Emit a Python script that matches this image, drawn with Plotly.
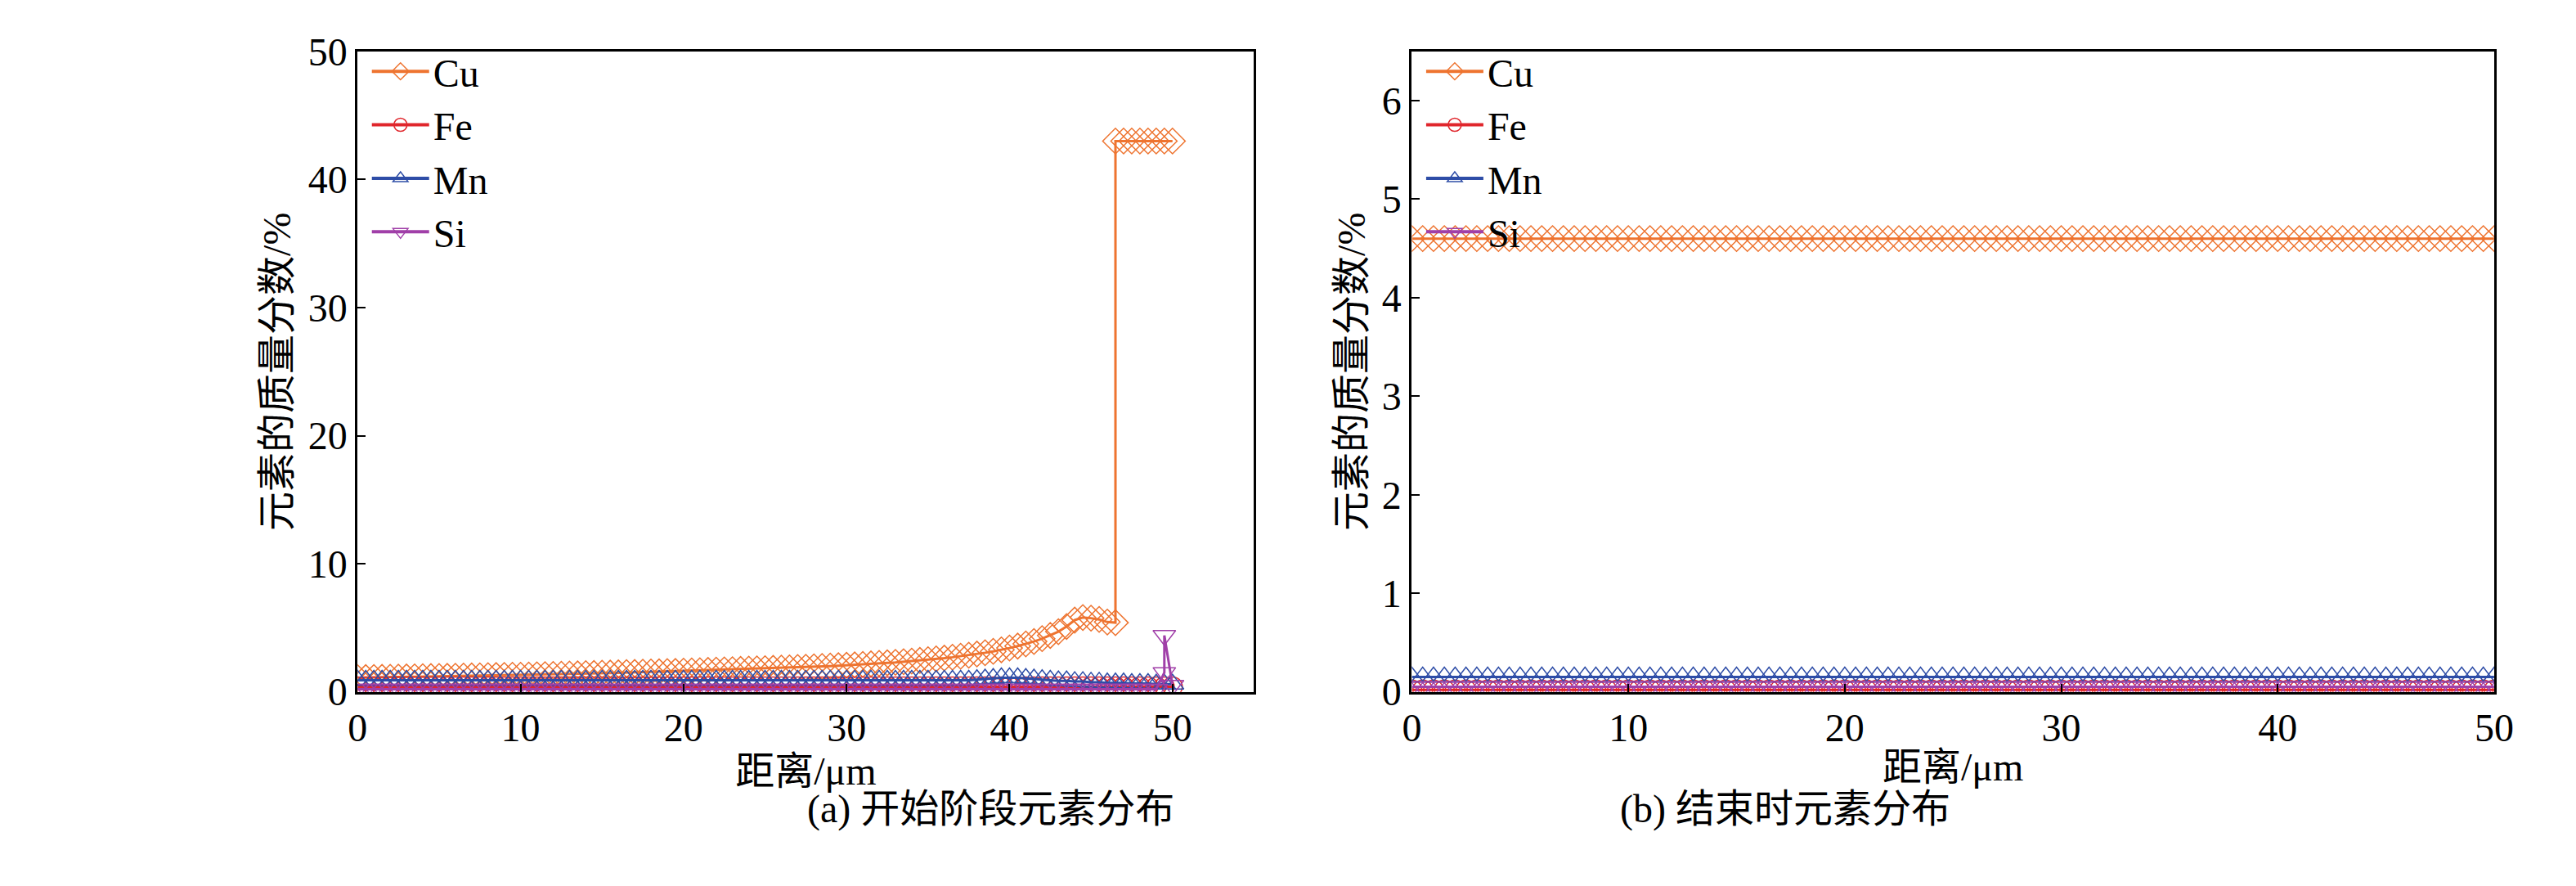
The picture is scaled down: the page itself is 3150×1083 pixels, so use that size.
import plotly.graph_objects as go

# distance grid, 0.5 um step
x = [i * 0.5 for i in range(101)]

# (a) start stage
cu_a = [1.10, 1.11, 1.12, 1.13, 1.14, 1.15, 1.16, 1.17, 1.18, 1.19, 1.20, 1.21, 1.22, 1.23, 1.24, 1.25, 1.26, 1.27, 1.28, 1.29, 1.30,
        1.31, 1.33, 1.34, 1.36, 1.37, 1.39, 1.40, 1.42, 1.43, 1.45, 1.46, 1.48, 1.50, 1.51, 1.53, 1.55, 1.56, 1.58, 1.59, 1.61,
        1.63, 1.65, 1.67, 1.69, 1.71, 1.73, 1.75, 1.77, 1.79, 1.81, 1.83, 1.85, 1.87, 1.90, 1.92, 1.95, 1.98, 2.01, 2.04, 2.07,
        2.10, 2.14, 2.18, 2.22, 2.26, 2.30, 2.35, 2.40, 2.45, 2.51, 2.57, 2.63, 2.70, 2.78, 2.86, 2.95, 3.05, 3.16, 3.28, 3.42,
        3.57, 3.74, 3.93, 4.15, 4.40, 4.70, 5.10, 5.60, 5.80, 5.75, 5.65, 5.45,
        5.40, 43.0, 43.0, 43.0, 43.0, 43.0, 43.0, 43.0, 43.0]
x_cu_a = x[:93] + [46.5] + x[93:]
fe_a = [0.40] * 101
mn_a = [0.90] * 76 + [0.95, 1.00, 1.05, 1.10, 1.10, 1.10, 1.05, 1.00, 0.95, 0.90, 0.85, 0.85,
                      0.80, 0.80, 0.75, 0.75, 0.70, 0.70, 0.70, 0.65, 0.65, 0.65, 0.60, 0.60, 0.60]
si_a = [0.20] * 99 + [1.50, 4.40, 0.50]
x_si_a = x[:100] + [49.5] + x[100:]

# (b) end stage
cu_b = [4.60] * 101
fe_b = [0.02] * 101
mn_b = [0.15] * 101
si_b = [0.05] * 101

names = ["Cu", "Fe", "Mn", "Si"]
colors = ["#EE7430", "#E0262C", "#2E4DA7", "#A03FA8"]
symbols = ["diamond-open", "circle-open", "triangle-up-open", "triangle-down-open"]

font = dict(family="Liberation Serif, Noto Sans CJK SC", size=48, color="black")
fig = go.Figure()
xs_a = [x_cu_a, x, x, x_si_a]
for k, ys in enumerate([cu_a, fe_a, mn_a, si_a]):
    fig.add_trace(go.Scatter(x=xs_a[k], y=ys, name=names[k], mode="lines+markers",
                             line=dict(color=colors[k], width=3),
                             marker=dict(symbol=symbols[k], size=24, line=dict(width=1.5, color=colors[k])),
                             xaxis="x", yaxis="y", showlegend=False))
for k, ys in enumerate([cu_b, fe_b, mn_b, si_b]):
    fig.add_trace(go.Scatter(x=x, y=ys, name=names[k], mode="lines+markers",
                             line=dict(color=colors[k], width=3),
                             marker=dict(symbol=symbols[k], size=24, line=dict(width=1.5, color=colors[k])),
                             xaxis="x2", yaxis="y2", showlegend=False))

# legend entries for each panel
for k in range(4):
    fig.add_trace(go.Scatter(x=[None], y=[None], name=names[k], mode="lines+markers",
                             line=dict(color=colors[k], width=4),
                             marker=dict(symbol=symbols[k], size=24, line=dict(width=1.5, color=colors[k])),
                             xaxis="x", yaxis="y", legend="legend"))
    fig.add_trace(go.Scatter(x=[None], y=[None], name=names[k], mode="lines+markers",
                             line=dict(color=colors[k], width=4),
                             marker=dict(symbol=symbols[k], size=24, line=dict(width=1.5, color=colors[k])),
                             xaxis="x2", yaxis="y2", legend="legend2"))

ax = dict(showline=True, mirror=True, linecolor="black", linewidth=3, ticks="inside",
          ticklen=10, tickwidth=2, tickcolor="black", showgrid=False, zeroline=False,
          tickfont=font, title_font=font)
fig.update_layout(
    width=3150, height=1083, plot_bgcolor="white", paper_bgcolor="white",
    margin=dict(l=0, r=0, t=0, b=0), font=font,
    xaxis=dict(ax, domain=[0.134, 0.486], range=[0, 55], dtick=10, title=dict(text="距离/μm", standoff=6)),
    yaxis=dict(ax, domain=[0.212, 0.972], range=[0, 50], dtick=10, title=dict(text="元素的质量分数/%", standoff=6)),
    xaxis2=dict(ax, domain=[0.548, 0.973], range=[0, 50], dtick=10, anchor="y2", title=dict(text="距离/μm", standoff=6)),
    yaxis2=dict(ax, domain=[0.212, 0.972], range=[0, 6.5], dtick=1, anchor="x2", title=dict(text="元素的质量分数/%", standoff=6)),
    legend=dict(x=0.138, y=0.985, xanchor="left", yanchor="top", bgcolor="rgba(0,0,0,0)",
                font=font, tracegroupgap=0, itemwidth=70),
    legend2=dict(x=0.552, y=0.985, xanchor="left", yanchor="top", bgcolor="rgba(0,0,0,0)",
                 font=font, tracegroupgap=0, itemwidth=70),
    annotations=[
        dict(text="(a) 开始阶段元素分布", x=0.31, y=0.045, xref="paper", yref="paper", showarrow=False, font=font),
        dict(text="(b) 结束时元素分布", x=0.76, y=0.045, xref="paper", yref="paper", showarrow=False, font=font),
    ],
)
fig.write_html("out.html")
